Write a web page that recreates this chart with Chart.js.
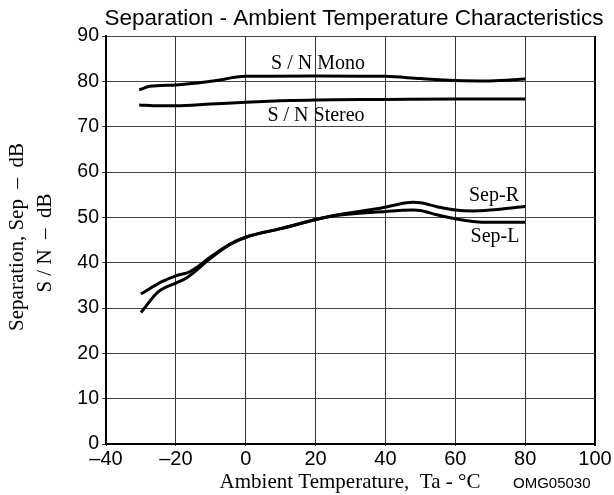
<!DOCTYPE html>
<html>
<head>
<meta charset="utf-8">
<script src="https://cdn.jsdelivr.net/npm/chart.js@4"></script>
<style>
  body { margin: 0; background: #fff; }
  #wrap { width: 614px; height: 495px; }
</style>
</head>
<body>
<div id="wrap"><canvas id="grafico" width="614" height="495"></canvas></div>
<script>
// valores
var monoTemp = [-30.5, -27.5, -20, -10, 0, 20, 40, 50, 60, 70, 80];
var monoVal = [78.1, 78.9, 79.2, 80.0, 81.1, 81.2, 81.1, 80.6, 80.2, 80.1, 80.5];

var stereoTemp = [-30.5, -25, -20, -10, 0, 10, 20, 40, 60, 80];
var stereoVal = [74.8, 74.6, 74.6, 75.0, 75.4, 75.7, 75.9, 76.0, 76.1, 76.1];

var sepRTemp = [-30, -24, -20, -16, -10, -4.5, 0, 10, 24, 38.5, 48, 50, 55, 60, 65, 70, 80];
var sepRVal = [33.1, 35.8, 37.1, 38.0, 41.3, 44.1, 45.6, 47.5, 50.2, 52.0, 53.3, 53.2, 52.3, 51.6, 51.4, 51.6, 52.4];

var sepLTemp = [-30, -25, -20, -17, -10, -4.5, 0, 10, 24, 40, 48, 50, 55, 60, 65, 70, 80];
var sepLVal = [29.0, 33.6, 35.5, 36.6, 41.0, 44.0, 45.6, 47.5, 50.2, 51.3, 51.6, 51.5, 50.5, 49.7, 49.1, 48.9, 48.9];

var tituloGrafico = 'Separation - Ambient Temperature Characteristics';
var tituloX = 'Ambient Temperature,  Ta - \u00B0C';
var tituloY = ['Separation, Sep  \u2013  dB', 'S / N  \u2013  dB'];

function juntar(xs, ys) {
    return xs.map(function (x, i) { return { x: x, y: ys[i] }; });
}

function serie(nome, xs, ys) {
    return {
        label: nome,
        data: juntar(xs, ys),
        borderColor: '#000',
        borderWidth: 3,
        pointRadius: 0,
        fill: false,
        cubicInterpolationMode: 'monotone'
    };
}

// textos desenhados por cima do grafico
var textos = {
    id: 'textos',
    afterDraw: function (chart) {
        var ctx = chart.ctx;
        ctx.save();
        ctx.fillStyle = '#000';
        ctx.textAlign = 'center';

        ctx.font = '22.5px "Liberation Sans", Arial, sans-serif';
        ctx.textBaseline = 'alphabetic';
        ctx.fillText(tituloGrafico, 354, 25);

        ctx.textBaseline = 'middle';
        ctx.font = '20px "Liberation Serif", "Times New Roman", serif';
        ctx.fillText('S / N Mono', 318, 64);
        ctx.fillText('S / N Stereo', 316, 116);
        ctx.fillText('Sep-R', 494, 196);
        ctx.fillText('Sep-L', 495, 237);

        ctx.textBaseline = 'alphabetic';
        ctx.font = '21px "Liberation Serif", "Times New Roman", serif';
        ctx.fillText(tituloX, 350, 488);

        ctx.font = '15px "Liberation Sans", Arial, sans-serif';
        ctx.textAlign = 'left';
        ctx.fillText('OMG05030', 513, 488);

        ctx.textAlign = 'center';
        ctx.textBaseline = 'middle';
        ctx.font = '21px "Liberation Serif", "Times New Roman", serif';
        ctx.save();
        ctx.translate(17, 237);
        ctx.rotate(-Math.PI / 2);
        ctx.fillText(tituloY[0], 0, 0);
        ctx.restore();
        ctx.save();
        ctx.translate(45, 243);
        ctx.rotate(-Math.PI / 2);
        ctx.fillText(tituloY[1], 0, 0);
        ctx.restore();

        ctx.restore();
    }
};

new Chart(document.getElementById('grafico'), {
    type: 'line',
    data: {
        datasets: [
            serie('S / N Mono', monoTemp, monoVal),
            serie('S / N Stereo', stereoTemp, stereoVal),
            serie('Sep-R', sepRTemp, sepRVal),
            serie('Sep-L', sepLTemp, sepLVal)
        ]
    },
    options: {
        responsive: false,
        animation: false,
        layout: { padding: { left: 0, right: 19, top: 36, bottom: 0 } },
        plugins: {
            legend: { display: false },
            title: { display: false },
            tooltip: { enabled: false }
        },
        scales: {
            x: {
                type: 'linear',
                min: -40,
                max: 100,
                afterFit: function (scale) { scale.height = 51; },
                ticks: {
                    stepSize: 20,
                    color: '#000',
                    padding: 1,
                    maxRotation: 0,
                    font: { family: '"Liberation Sans", Arial, sans-serif', size: 20 },
                    callback: function (v) { return v < 0 ? '\u2013' + Math.abs(v) : String(v); }
                },
                grid: {
                    color: function (c) { return c.tick && c.tick.value === 100 ? '#000' : '#333'; },
                    lineWidth: function (c) { return c.tick && c.tick.value === 100 ? 2 : 1; },
                    tickLength: 2
                },
                border: { color: '#000', width: 2 }
            },
            y: {
                min: 0,
                max: 90,
                afterFit: function (scale) { scale.width = 106; },
                ticks: {
                    stepSize: 10,
                    color: '#000',
                    padding: 3,
                    font: { family: '"Liberation Sans", Arial, sans-serif', size: 19.5 }
                },
                grid: {
                    color: '#444',
                    lineWidth: 1,
                    tickLength: 4
                },
                border: { color: '#000', width: 2 }
            }
        }
    },
    plugins: [textos]
});
</script>
</body>
</html>
